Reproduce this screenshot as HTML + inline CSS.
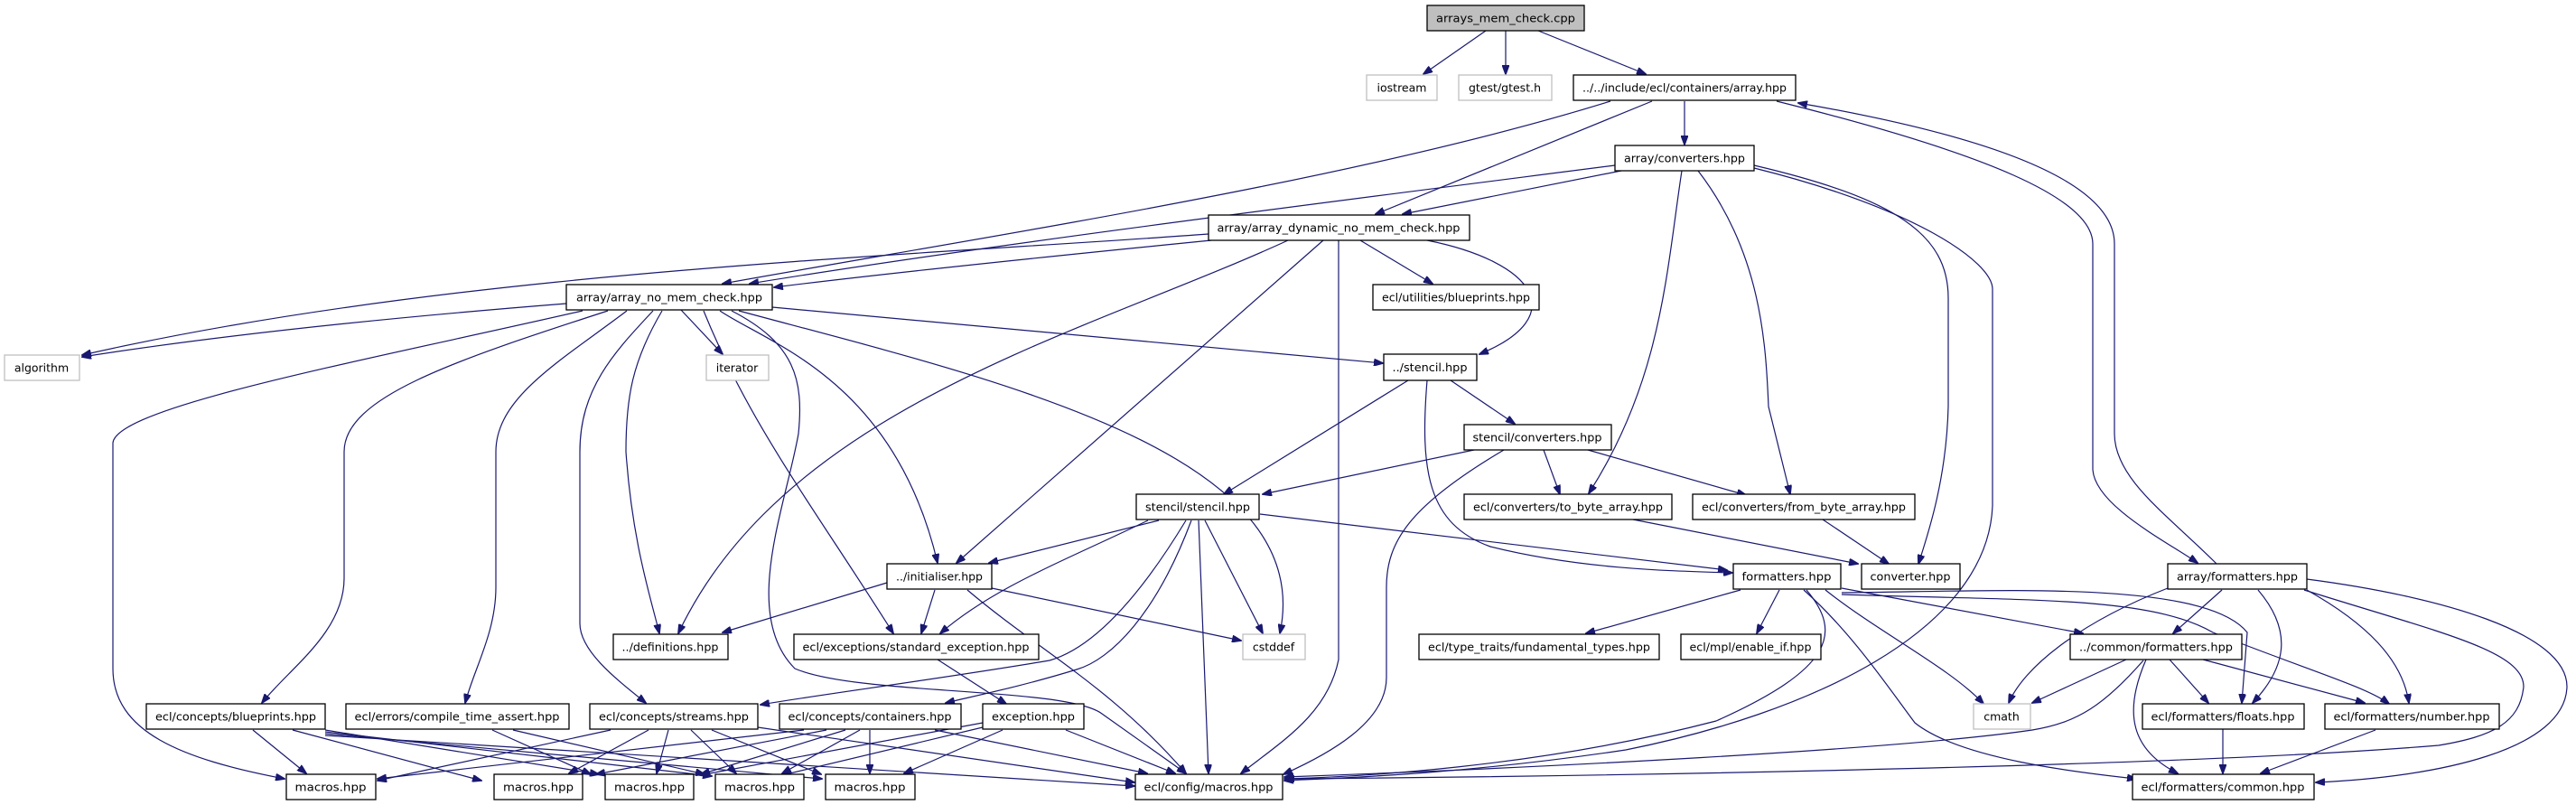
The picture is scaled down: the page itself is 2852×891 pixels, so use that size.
<!DOCTYPE html>
<html><head><meta charset="utf-8"><style>
html,body{margin:0;padding:0;background:#fff;}
svg{display:block;}
text{font-family:"DejaVu Sans","Liberation Sans",sans-serif;font-size:12.5px;fill:#000;}
.e{fill:none;stroke:#191970;stroke-width:1.2;marker-end:url(#ah);}
.n{fill:#fff;stroke:#000;stroke-width:1.3;}
.g{fill:#fff;stroke:#bfbfbf;stroke-width:1.3;}
</style></head><body>
<svg width="2852" height="891" viewBox="0 0 2852 891" xmlns="http://www.w3.org/2000/svg">
<defs><marker id="ah" markerUnits="userSpaceOnUse" markerWidth="11" markerHeight="8" refX="10" refY="4" orient="auto"><path d="M0,0 L11,4 L0,8 z" fill="#191970" stroke="#191970"/></marker></defs>
<g>
<path class="e" d="M1645,34 L1576,82"/>
<path class="e" d="M1667,34 L1667,82"/>
<path class="e" d="M1703,34 L1822,82"/>
<path class="e" d="M1783,112 C1500,200 1100,260 800,314"/>
<path class="e" d="M1829,112 L1523,237"/>
<path class="e" d="M1865,112 L1865,160"/>
<path class="e" d="M1788,183 C1500,220 1100,270 830,314"/>
<path class="e" d="M1795,189 L1553,237"/>
<path class="e" d="M1341,266 C1200,280 1000,300 857,318"/>
<path class="e" d="M1338,259 C1000,284 500,300 91,393"/>
<path class="e" d="M627,336 C450,350 250,370 91,395"/>
<path class="e" d="M1506,266 L1586,314"/>
<path class="e" d="M1580,266 C1700,290 1740,350 1638,392"/>
<path class="e" d="M1426,266 C1200,370 870,450 751,701"/>
<path class="e" d="M1465,266 L1059,623"/>
<path class="e" d="M1482,266 L1482,730 C1470,790 1420,820 1374,856"/>
<path class="e" d="M855,340 L1531,402"/>
<path class="e" d="M754,343 L800,392"/>
<path class="e" d="M645,344 C400,400 130,450 125,490 L125,740 C125,810 200,840 315,862"/>
<path class="e" d="M673,344 C500,400 381,440 381,500 L381,640 C381,700 320,740 290,778"/>
<path class="e" d="M694,344 C620,400 549,440 549,500 L549,650 C549,700 525,740 515,778"/>
<path class="e" d="M723,344 C680,390 642,430 642,500 L642,690 C642,720 680,750 715,778"/>
<path class="e" d="M733,344 C700,400 693,440 693,500 C700,600 720,660 730,701"/>
<path class="e" d="M797,344 C850,380 990,420 1038,623"/>
<path class="e" d="M779,344 C830,470 900,560 989,701"/>
<path class="e" d="M818,344 C1100,420 1460,500 1417,701"/>
<path class="e" d="M810,344 C880,380 890,420 884,480 C870,560 820,680 880,740 C950,770 1180,760 1220,790 L1313,856"/>
<path class="e" d="M1559,421 L1355,547"/>
<path class="e" d="M1606,421 L1677,469"/>
<path class="e" d="M1580,421 C1572,520 1580,580 1650,605 C1750,630 1850,632 1918,634"/>
<path class="e" d="M1632,498 L1398,547"/>
<path class="e" d="M1709,498 L1727,547"/>
<path class="e" d="M1758,498 L1933,548"/>
<path class="e" d="M1665,498 C1560,560 1535,600 1535,650 L1535,750 C1535,800 1470,835 1421,857"/>
<path class="e" d="M1862,189 C1845,300 1840,420 1759,546"/>
<path class="e" d="M1880,189 C1950,280 1955,380 1958,450 L1982,547"/>
<path class="e" d="M1942,183 C2100,220 2157,260 2157,330 L2157,450 C2155,530 2135,590 2124,624"/>
<path class="e" d="M1942,186 C2120,230 2206,290 2206,320 L2206,560 C2200,700 2000,790 1800,830 C1600,860 1450,862 1422,864"/>
<path class="e" d="M1967,112 C2200,170 2317,220 2317,270 L2317,520 C2320,560 2400,600 2433,623"/>
<path class="e" d="M2454,624 C2400,570 2341,530 2341,480 L2341,270 C2341,200 2200,150 1991,114"/>
<path class="e" d="M1283,576 L1095,623"/>
<path class="e" d="M1271,576 C1180,620 1100,650 1041,701"/>
<path class="e" d="M1313,576 C1250,680 1200,720 1162,731 C1050,750 900,770 842,780"/>
<path class="e" d="M1319,576 C1280,680 1230,730 1192,741 C1130,760 1080,770 1047,778"/>
<path class="e" d="M1334,576 L1398,701"/>
<path class="e" d="M1327,576 L1338,856"/>
<path class="e" d="M1395,569 L1912,631"/>
<path class="e" d="M1035,653 L1020,701"/>
<path class="e" d="M982,645 L800,700"/>
<path class="e" d="M1098,651 L1374,709"/>
<path class="e" d="M1071,653 C1150,720 1230,760 1313,856"/>
<path class="e" d="M1038,730 L1114,779"/>
<path class="e" d="M1808,575 L2057,624"/>
<path class="e" d="M2018,575 L2091,624"/>
<path class="e" d="M1927,653 L1756,701"/>
<path class="e" d="M1970,653 L1945,701"/>
<path class="e" d="M2039,651 L2306,701"/>
<path class="e" d="M2021,653 C2080,700 2160,740 2196,779"/>
<path class="e" d="M2039,656 C2200,655 2440,640 2488,700 L2482,778"/>
<path class="e" d="M2039,658 C2250,665 2380,660 2450,700 C2550,740 2620,760 2645,779"/>
<path class="e" d="M1997,653 C2050,700 2090,760 2120,800 C2170,840 2300,855 2365,862"/>
<path class="e" d="M2000,653 C2040,700 2030,740 1900,798 C1700,850 1500,860 1422,862"/>
<path class="e" d="M2460,653 L2406,701"/>
<path class="e" d="M2400,651 C2300,690 2240,740 2224,778"/>
<path class="e" d="M2500,653 C2540,700 2530,740 2494,778"/>
<path class="e" d="M2554,653 C2620,690 2660,730 2667,778"/>
<path class="e" d="M2554,641 C2700,660 2842,700 2842,760 C2840,830 2700,860 2564,866"/>
<path class="e" d="M2551,653 C2700,700 2794,720 2794,760 C2790,800 2760,815 2700,825 C2400,850 1700,860 1423,862"/>
<path class="e" d="M2354,730 L2250,778"/>
<path class="e" d="M2402,730 L2445,778"/>
<path class="e" d="M2439,730 L2618,778"/>
<path class="e" d="M2376,730 C2350,790 2360,830 2411,856"/>
<path class="e" d="M2373,731 C2330,780 2300,800 2250,808 C2100,830 1700,850 1422,860"/>
<path class="e" d="M2461,807 L2461,856"/>
<path class="e" d="M2630,808 L2503,856"/>
<path class="e" d="M1110,808 L1001,856"/>
<path class="e" d="M1088,805 L866,858"/>
<path class="e" d="M1088,800 L775,858"/>
<path class="e" d="M1180,808 L1301,856"/>
<path class="e" d="M963,808 L963,856"/>
<path class="e" d="M1035,808 L1270,856"/>
<path class="e" d="M890,808 L418,862"/>
<path class="e" d="M915,808 L660,857"/>
<path class="e" d="M936,808 L776,857"/>
<path class="e" d="M952,808 L866,856"/>
<path class="e" d="M839,805 L1256,866"/>
<path class="e" d="M676,808 L418,864"/>
<path class="e" d="M718,808 L630,856"/>
<path class="e" d="M740,808 L727,856"/>
<path class="e" d="M765,808 L815,856"/>
<path class="e" d="M788,808 L909,857"/>
<path class="e" d="M545,808 L654,857"/>
<path class="e" d="M568,808 L780,857"/>
<path class="e" d="M280,808 L339,856"/>
<path class="e" d="M324,808 L533,864"/>
<path class="e" d="M360,808 L663,857"/>
<path class="e" d="M360,810 L788,859"/>
<path class="e" d="M360,812 L910,862"/>
<path class="e" d="M360,814 L1256,870"/>
</g>
<g>
<rect x="1580" y="6" width="174" height="28" fill="#bfbfbf" stroke="#000" stroke-width="1.3"/><text x="1667" y="24.5" text-anchor="middle" textLength="154" lengthAdjust="spacingAndGlyphs">arrays_mem_check.cpp</text>
<rect class="g" x="1513" y="83" width="78" height="28"/><text x="1552" y="101.5" text-anchor="middle">iostream</text>
<rect class="g" x="1615" y="83" width="103" height="28"/><text x="1666" y="101.5" text-anchor="middle">gtest/gtest.h</text>
<rect class="n" x="1742" y="83" width="246" height="28"/><text x="1865" y="101.5" text-anchor="middle" textLength="226" lengthAdjust="spacingAndGlyphs">../../include/ecl/containers/array.hpp</text>
<rect class="n" x="1788" y="161" width="154" height="28"/><text x="1865" y="179.5" text-anchor="middle" textLength="134" lengthAdjust="spacingAndGlyphs">array/converters.hpp</text>
<rect class="n" x="1338" y="238" width="289" height="28"/><text x="1482" y="256.5" text-anchor="middle" textLength="269" lengthAdjust="spacingAndGlyphs">array/array_dynamic_no_mem_check.hpp</text>
<rect class="n" x="627" y="315" width="228" height="28"/><text x="741" y="333.5" text-anchor="middle" textLength="206" lengthAdjust="spacingAndGlyphs">array/array_no_mem_check.hpp</text>
<rect class="n" x="1520" y="315" width="184" height="28"/><text x="1612" y="333.5" text-anchor="middle" textLength="164" lengthAdjust="spacingAndGlyphs">ecl/utilities/blueprints.hpp</text>
<rect class="n" x="1532" y="392" width="103" height="29"/><text x="1583" y="411" text-anchor="middle" textLength="83" lengthAdjust="spacingAndGlyphs">../stencil.hpp</text>
<rect class="g" x="5" y="393" width="83" height="28"/><text x="46" y="411.5" text-anchor="middle">algorithm</text>
<rect class="g" x="782" y="393" width="69" height="28"/><text x="816" y="411.5" text-anchor="middle">iterator</text>
<rect class="n" x="1621" y="470" width="163" height="28"/><text x="1702" y="488.5" text-anchor="middle" textLength="143" lengthAdjust="spacingAndGlyphs">stencil/converters.hpp</text>
<rect class="n" x="1258" y="547" width="136" height="28"/><text x="1326" y="565.5" text-anchor="middle" textLength="116" lengthAdjust="spacingAndGlyphs">stencil/stencil.hpp</text>
<rect class="n" x="1621" y="547" width="230" height="28"/><text x="1736" y="565.5" text-anchor="middle" textLength="210" lengthAdjust="spacingAndGlyphs">ecl/converters/to_byte_array.hpp</text>
<rect class="n" x="1874" y="547" width="246" height="28"/><text x="1997" y="565.5" text-anchor="middle" textLength="226" lengthAdjust="spacingAndGlyphs">ecl/converters/from_byte_array.hpp</text>
<rect class="n" x="982" y="624" width="116" height="28"/><text x="1040" y="642.5" text-anchor="middle" textLength="96" lengthAdjust="spacingAndGlyphs">../initialiser.hpp</text>
<rect class="n" x="1919" y="624" width="119" height="28"/><text x="1978" y="642.5" text-anchor="middle" textLength="99" lengthAdjust="spacingAndGlyphs">formatters.hpp</text>
<rect class="n" x="2061" y="624" width="109" height="28"/><text x="2115" y="642.5" text-anchor="middle" textLength="89" lengthAdjust="spacingAndGlyphs">converter.hpp</text>
<rect class="n" x="2400" y="624" width="154" height="28"/><text x="2477" y="642.5" text-anchor="middle" textLength="134" lengthAdjust="spacingAndGlyphs">array/formatters.hpp</text>
<rect class="n" x="679" y="702" width="127" height="28"/><text x="742" y="720.5" text-anchor="middle" textLength="107" lengthAdjust="spacingAndGlyphs">../definitions.hpp</text>
<rect class="n" x="879" y="702" width="271" height="28"/><text x="1014" y="720.5" text-anchor="middle" textLength="251" lengthAdjust="spacingAndGlyphs">ecl/exceptions/standard_exception.hpp</text>
<rect class="g" x="1376" y="702" width="69" height="28"/><text x="1410" y="720.5" text-anchor="middle">cstddef</text>
<rect class="n" x="1571" y="702" width="266" height="28"/><text x="1704" y="720.5" text-anchor="middle" textLength="246" lengthAdjust="spacingAndGlyphs">ecl/type_traits/fundamental_types.hpp</text>
<rect class="n" x="1861" y="702" width="155" height="28"/><text x="1938" y="720.5" text-anchor="middle" textLength="135" lengthAdjust="spacingAndGlyphs">ecl/mpl/enable_if.hpp</text>
<rect class="n" x="2292" y="702" width="190" height="28"/><text x="2387" y="720.5" text-anchor="middle" textLength="170" lengthAdjust="spacingAndGlyphs">../common/formatters.hpp</text>
<rect class="n" x="162" y="779" width="198" height="28"/><text x="261" y="797.5" text-anchor="middle" textLength="178" lengthAdjust="spacingAndGlyphs">ecl/concepts/blueprints.hpp</text>
<rect class="n" x="383" y="779" width="247" height="28"/><text x="506" y="797.5" text-anchor="middle" textLength="227" lengthAdjust="spacingAndGlyphs">ecl/errors/compile_time_assert.hpp</text>
<rect class="n" x="653" y="779" width="186" height="28"/><text x="746" y="797.5" text-anchor="middle" textLength="166" lengthAdjust="spacingAndGlyphs">ecl/concepts/streams.hpp</text>
<rect class="n" x="863" y="779" width="201" height="28"/><text x="963" y="797.5" text-anchor="middle" textLength="181" lengthAdjust="spacingAndGlyphs">ecl/concepts/containers.hpp</text>
<rect class="n" x="1088" y="779" width="112" height="28"/><text x="1144" y="797.5" text-anchor="middle" textLength="92" lengthAdjust="spacingAndGlyphs">exception.hpp</text>
<rect class="g" x="2185" y="779" width="63" height="28"/><text x="2216" y="797.5" text-anchor="middle">cmath</text>
<rect class="n" x="2372" y="779" width="179" height="28"/><text x="2461" y="797.5" text-anchor="middle" textLength="159" lengthAdjust="spacingAndGlyphs">ecl/formatters/floats.hpp</text>
<rect class="n" x="2574" y="779" width="193" height="28"/><text x="2670" y="797.5" text-anchor="middle" textLength="173" lengthAdjust="spacingAndGlyphs">ecl/formatters/number.hpp</text>
<rect class="n" x="317" y="857" width="99" height="28"/><text x="366" y="875.5" text-anchor="middle" textLength="79" lengthAdjust="spacingAndGlyphs">macros.hpp</text>
<rect class="n" x="547" y="857" width="98" height="28"/><text x="596" y="875.5" text-anchor="middle" textLength="78" lengthAdjust="spacingAndGlyphs">macros.hpp</text>
<rect class="n" x="670" y="857" width="98" height="28"/><text x="719" y="875.5" text-anchor="middle" textLength="78" lengthAdjust="spacingAndGlyphs">macros.hpp</text>
<rect class="n" x="792" y="857" width="98" height="28"/><text x="841" y="875.5" text-anchor="middle" textLength="78" lengthAdjust="spacingAndGlyphs">macros.hpp</text>
<rect class="n" x="914" y="857" width="99" height="28"/><text x="963" y="875.5" text-anchor="middle" textLength="79" lengthAdjust="spacingAndGlyphs">macros.hpp</text>
<rect class="n" x="1257" y="857" width="163" height="28"/><text x="1338" y="875.5" text-anchor="middle" textLength="143" lengthAdjust="spacingAndGlyphs">ecl/config/macros.hpp</text>
<rect class="n" x="2361" y="857" width="201" height="28"/><text x="2461" y="875.5" text-anchor="middle" textLength="181" lengthAdjust="spacingAndGlyphs">ecl/formatters/common.hpp</text>
</g>
</svg>
</body></html>
